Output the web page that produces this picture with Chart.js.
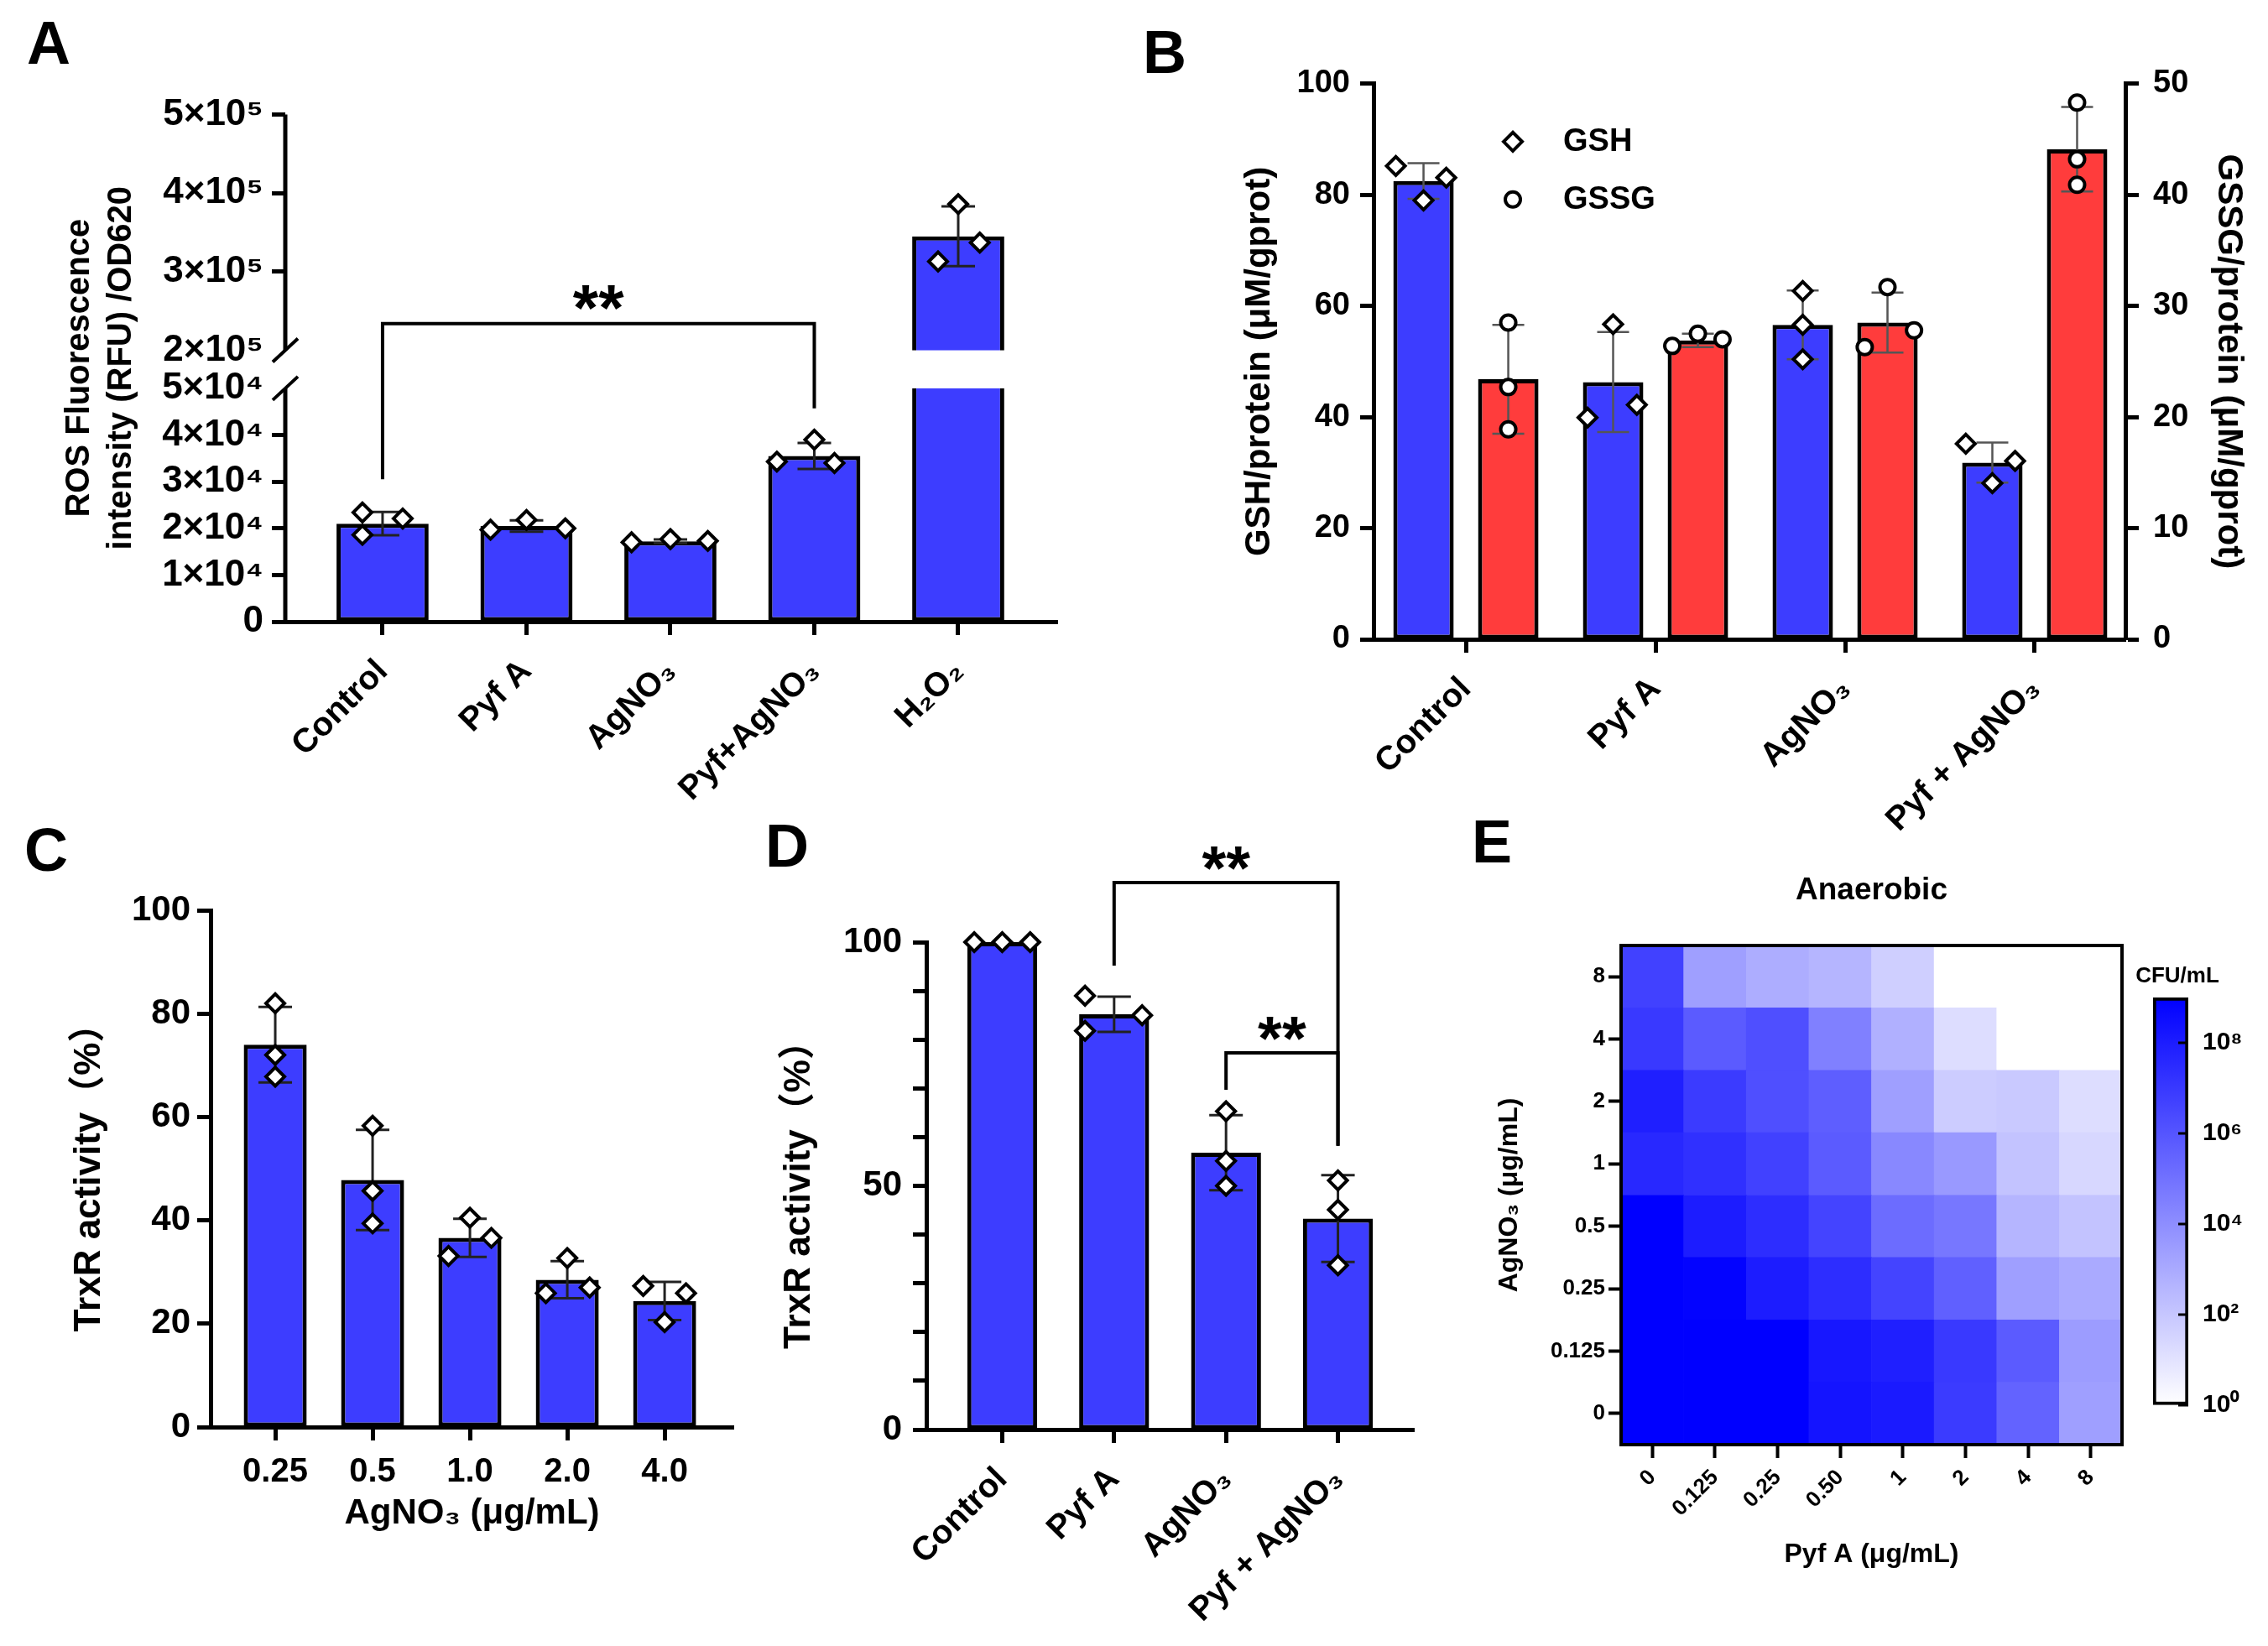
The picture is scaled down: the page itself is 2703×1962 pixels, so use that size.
<!DOCTYPE html>
<html>
<head>
<meta charset="utf-8">
<script src="https://cdn.jsdelivr.net/npm/chart.js@4.4.1/dist/chart.umd.min.js"></script>
<style>
  html, body { margin: 0; padding: 0; background: #fff; }
  body { position: relative; width: 2703px; height: 1962px; overflow: hidden; }
  canvas { position: absolute; }
  .tag { position: absolute; z-index: 5; font: bold 72px "Liberation Sans", Arial, sans-serif; line-height: 1; color: #000; }
</style>
</head>
<body>
<div class="tag" style="left:32px;top:15px">A</div>
<div class="tag" style="left:1362px;top:26px">B</div>
<div class="tag" style="left:29px;top:977px">C</div>
<div class="tag" style="left:912px;top:972px">D</div>
<div class="tag" style="left:1754px;top:967px">E</div>
<script>
// ---------- data ----------
// A: ROS fluorescence
const catsA = ['Control', 'Pyf A', 'AgNO₃', 'Pyf+AgNO₃', 'H₂O₂'];
const rosMean = [2.1e4, 2.05e4, 1.72e4, 3.55e4, 3.45e5];
const rosSd = [0.25e4, 0.12e4, 0.04e4, 0.28e4, 0.38e5];
const rosPts = [
  [2.34e4, 1.86e4, 2.21e4],
  [1.97e4, 2.18e4, 2.0e4],
  [1.7e4, 1.77e4, 1.73e4],
  [3.9e4, 3.43e4, 3.4e4],
  [3.86e5, 3.37e5, 3.13e5],
];
const rosTicks = [0, 1e4, 2e4, 3e4, 4e4, 5e4, 2e5, 3e5, 4e5, 5e5];
const rosBreak = [5e4, 2e5];

// B: GSH / GSSG
const catsB = ['Control', 'Pyf A', 'AgNO₃', 'Pyf + AgNO₃'];
const gshMean = [82.5, 46.3, 56.6, 31.8];
const gshSd = [3.2, 9.0, 6.2, 3.6];
const gshPts = [[85.2, 79.0, 83.1], [56.7, 39.9, 42.2], [62.7, 56.6, 50.4], [35.2, 28.1, 32.1]];
const gssgMean = [23.4, 26.9, 28.5, 44.1];
const gssgSd = [4.9, 0.6, 2.7, 3.8];
const gssgPts = [[28.5, 22.7, 18.9], [26.4, 27.5, 27.0], [31.7, 26.3, 27.8], [48.3, 43.2, 40.9]];

// C: TrxR activity vs AgNO3
const dosesC = ['0.25', '0.5', '1.0', '2.0', '4.0'];
const trxC = [74.0, 47.8, 36.6, 28.5, 24.4];
const trxCSd = [7.3, 9.7, 3.7, 3.6, 3.7];
const trxCPts = [[82.0, 72.0, 67.8], [58.3, 45.7, 39.4], [40.5, 33.1, 36.6], [32.7, 25.9, 27.0], [27.3, 25.9, 20.3]];

// D: TrxR activity by treatment
const catsD = ['Control', 'Pyf A', 'AgNO₃', 'Pyf + AgNO₃'];
const trxD = [100, 85.2, 56.8, 43.3];
const trxDSd = [0, 3.6, 7.7, 8.9];
const trxDPts = [[100, 100, 100], [89.0, 81.8, 85.0], [65.3, 55.1, 50.0], [51.1, 45.1, 33.7]];

// E: checkerboard, log10 CFU/mL; rows = AgNO3 dose (bottom to top), cols = Pyf A dose
const pyfDoses = ['0', '0.125', '0.25', '0.50', '1', '2', '4', '8'];
const agDoses = ['0', '0.125', '0.25', '0.5', '1', '2', '4', '8'];
const logCfu = [
  [9.0, 9.0, 9.0, 8.3, 8.1, 6.9, 5.5, 3.4],
  [9.0, 9.0, 9.0, 8.2, 7.9, 7.0, 5.8, 3.5],
  [9.0, 8.9, 8.0, 7.4, 6.6, 5.6, 3.4, 3.0],
  [9.0, 8.0, 7.4, 6.6, 5.2, 4.8, 2.6, 2.1],
  [7.6, 7.3, 6.7, 5.8, 4.2, 3.6, 2.1, 1.4],
  [7.9, 6.9, 6.2, 5.7, 3.4, 1.8, 1.9, 1.2],
  [7.0, 5.8, 6.2, 4.5, 2.8, 1.2, 0, 0],
  [6.7, 3.4, 2.9, 2.6, 1.7, 0, 0, 0],
];
const cfuTicks = [0, 2, 4, 6, 8];
const cfuRange = [0, 9];

// horizontal placement of replicate symbols (category units), like the prism scatter
const spreadA = [[-0.14, -0.14, 0.14], [-0.25, 0, 0.27], [-0.27, 0, 0.26], [0, -0.26, 0.14], [0, 0.15, -0.14]];
const spreadGsh = [[-0.146, 0, 0.12], [0, -0.135, 0.125], [0, 0, 0], [-0.14, 0, 0.12]];
const spreadGssg = [[0, 0, 0], [-0.135, 0, 0.13], [0, -0.12, 0.14], [0, 0, 0]];
const spreadC = [[0, 0, 0], [0, 0, 0], [0, -0.22, 0.22], [0, -0.22, 0.23], [-0.22, 0.22, 0]];
const spreadD = [[-0.25, 0, 0.25], [-0.26, -0.26, 0.25], [0, 0, 0], [0, 0, 0]];

// ---------- styling ----------
const FAM = '"Liberation Sans", Arial, "Noto Sans CJK SC", sans-serif';
const BLUE = '#3d3dff';
const RED = '#ff3c3c';
Chart.defaults.font.family = FAM;
Chart.defaults.font.weight = 'bold';
Chart.defaults.color = '#000';
Chart.defaults.animation = false;
Chart.defaults.responsive = false;
Chart.defaults.plugins.legend.display = false;
Chart.defaults.plugins.tooltip.enabled = false;

const SUP = { 0: '⁰', 1: '¹', 2: '²', 3: '³', 4: '⁴', 5: '⁵', 6: '⁶', 7: '⁷', 8: '⁸', 9: '⁹' };
const sup = (n) => String(n).split('').map((c) => SUP[c]).join('');
function sciLabel(v) {
  if (v === 0) return '0';
  const e = Math.floor(Math.log10(v) + 1e-9);
  return Math.round(v / 10 ** e) + '×10' + sup(e);
}
function cfuColor(v) {
  const t = (v - cfuRange[0]) / (cfuRange[1] - cfuRange[0]);
  const k = Math.round(255 * (1 - t));
  return `rgb(${k},${k},255)`;
}

function makeCanvas(x0, y0, x1, y1) {
  const c = document.createElement('canvas');
  c.width = x1 - x0;
  c.height = y1 - y0;
  c.style.left = x0 + 'px';
  c.style.top = y0 + 'px';
  document.body.appendChild(c);
  return c;
}

// linear x axis carrying category names, so the bars can sit away from the y axis
function catAxis(labels, min, max, o) {
  const ax = {
    type: 'linear', min, max, bounds: 'data', offset: false,
    afterBuildTicks: (s) => { s.ticks = labels.map((_, i) => ({ value: i })); },
    afterFit: (s) => { s.height = o.height; },
    ticks: { autoSkip: false, minRotation: o.rot, maxRotation: o.rot, padding: o.pad, font: { size: o.size }, callback: (v) => labels[v] },
    grid: { offset: false, drawOnChartArea: false, tickLength: 16, tickWidth: 5, color: '#000' },
    border: { color: '#000', width: 5 },
  };
  if (o.title) ax.title = { display: true, text: o.title, font: { size: o.titleSize }, padding: 0 };
  return ax;
}

function valueAxis(o) {
  const ticks = { stepSize: o.step, padding: o.pad, font: { size: o.size } };
  if (o.cb) ticks.callback = o.cb;
  return {
    type: 'linear', position: o.position || 'left', min: o.min, max: o.max, bounds: 'data',
    afterFit: (s) => { s.width = o.width; },
    ticks,
    grid: { drawOnChartArea: false, tickLength: 16, tickWidth: 5, color: '#000' },
    border: { color: '#000', width: 5 },
    title: { display: true, text: o.title, font: { size: o.titleSize }, padding: 0 },
  };
}

function pointsFrom(groups, spread, shift) {
  return groups.flatMap((g, i) => g.map((v, j) => ({ x: i + shift + spread[i][j], y: v })));
}

const marker = (style, r) => ({
  type: 'scatter', pointStyle: style, pointRadius: r, pointHoverRadius: r,
  pointBackgroundColor: '#fff', pointBorderColor: '#000', pointBorderWidth: 4,
  order: 1, clip: false,
});

// ---------- plugins ----------
const errorBars = {
  id: 'errorBars',
  defaults: { color: '#222', width: 3, cap: 20 },
  afterDatasetDraw(chart, args, opts) {
    const ds = chart.data.datasets[args.index];
    if (!ds.errors) return;
    const y = chart.scales[args.meta.yAxisID];
    const ctx = chart.ctx;
    ctx.save();
    ctx.strokeStyle = opts.color;
    ctx.lineWidth = opts.width;
    args.meta.data.forEach((bar, i) => {
      const e = ds.errors[i];
      if (!e) return;
      const m = ds.data[i].y;
      const top = y.getPixelForValue(m + e);
      const bot = y.getPixelForValue(m - e);
      ctx.beginPath();
      ctx.moveTo(bar.x, top); ctx.lineTo(bar.x, bot);
      ctx.moveTo(bar.x - opts.cap, top); ctx.lineTo(bar.x + opts.cap, top);
      ctx.moveTo(bar.x - opts.cap, bot); ctx.lineTo(bar.x + opts.cap, bot);
      ctx.stroke();
    });
    ctx.restore();
  },
};

const brackets = {
  id: 'brackets',
  defaults: { items: [], size: 78, lift: 8 },
  afterDatasetsDraw(chart, args, opts) {
    const { ctx } = chart;
    const x = chart.scales.x, y = chart.scales.y;
    ctx.save();
    ctx.strokeStyle = '#000';
    ctx.lineWidth = 4;
    ctx.fillStyle = '#000';
    ctx.font = `bold ${opts.size}px ${FAM}`;
    ctx.textAlign = 'center';
    ctx.textBaseline = 'alphabetic';
    opts.items.forEach((b) => {
      const x1 = x.getPixelForValue(b.from), x2 = x.getPixelForValue(b.to);
      const yl = y.getPixelForValue(b.level);
      ctx.beginPath();
      ctx.moveTo(x1, y.getPixelForValue(b.ends[0]));
      ctx.lineTo(x1, yl);
      ctx.lineTo(x2, yl);
      ctx.lineTo(x2, y.getPixelForValue(b.ends[1]));
      ctx.stroke();
      ctx.fillText(b.text, (x1 + x2) / 2, yl + opts.lift);
    });
    ctx.restore();
  },
};

// y scale with a gap between two linear segments
class BrokenScale extends Chart.LinearScale {
  static id = 'broken';
  static defaults = {};
  getPixelForValue(value) {
    if (value === null || value === undefined || isNaN(value)) return NaN;
    const [b0, b1] = this.options.breakAt;
    const [f0, f1] = this.options.breakSpan;
    const { min, max } = this;
    let f;
    if (value <= b0) f = (value - min) / (b0 - min) * f0;
    else if (value < b1) f = f0 + (value - b0) / (b1 - b0) * (f1 - f0);
    else f = f1 + (value - b1) / (max - b1) * (1 - f1);
    return this.getPixelForDecimal(f);
  }
  getValueForPixel(pixel) {
    const [b0, b1] = this.options.breakAt;
    const [f0, f1] = this.options.breakSpan;
    const { min, max } = this;
    const f = this.getDecimalForPixel(pixel);
    if (f <= f0) return min + f / f0 * (b0 - min);
    if (f < f1) return b0 + (f - f0) / (f1 - f0) * (b1 - b0);
    return b1 + (f - f1) / (1 - f1) * (max - b1);
  }
}
Chart.register(BrokenScale);

const brokenAxis = {
  id: 'brokenAxis',
  afterDatasetDraw(chart, args) {
    if (args.meta.type !== 'bar') return;
    const { ctx, chartArea: a } = chart;
    const y = chart.scales.y;
    const [b0, b1] = y.options.breakAt;
    const g0 = y.getPixelForValue(b0), g1 = y.getPixelForValue(b1);
    ctx.save();
    ctx.fillStyle = '#fff';
    ctx.fillRect(a.left + 3, g1, a.right - a.left, g0 - g1);
    ctx.restore();
  },
  afterDraw(chart) {
    const { ctx, chartArea: a } = chart;
    const y = chart.scales.y;
    const [b0, b1] = y.options.breakAt;
    const g0 = y.getPixelForValue(b0), g1 = y.getPixelForValue(b1);
    const x = a.left;
    ctx.save();
    ctx.strokeStyle = '#000';
    ctx.lineWidth = 5;
    ctx.beginPath();
    ctx.moveTo(x, a.top); ctx.lineTo(x, g1);
    ctx.moveTo(x, g0); ctx.lineTo(x, a.bottom + 2);
    ctx.stroke();
    ctx.lineWidth = 4;
    ctx.beginPath();
    [g1, g0].forEach((gy) => { ctx.moveTo(x - 15, gy + 14); ctx.lineTo(x + 15, gy - 14); });
    ctx.stroke();
    ctx.restore();
  },
};

const markerLegend = {
  id: 'markerLegend',
  defaults: { dx: 166, dy: 69, step: 69, gap: 60, size: 38 },
  afterDraw(chart, args, opts) {
    const { ctx, chartArea: a } = chart;
    const items = chart.data.datasets.filter((d) => d.type === 'scatter');
    ctx.save();
    items.forEach((d, k) => {
      const px = a.left + opts.dx, py = a.top + opts.dy + k * opts.step;
      ctx.fillStyle = '#fff';
      ctx.strokeStyle = '#000';
      ctx.lineWidth = 4;
      Chart.helpers.drawPoint(ctx, { pointStyle: d.pointStyle, radius: d.pointRadius, borderWidth: 4, rotation: 0 }, px, py);
      ctx.fillStyle = '#000';
      ctx.font = `bold ${opts.size}px ${FAM}`;
      ctx.textAlign = 'left';
      ctx.textBaseline = 'middle';
      ctx.fillText(d.label, px + opts.gap, py + 1);
    });
    ctx.restore();
  },
};

const frame = {
  id: 'frame',
  afterDraw(chart) {
    const { ctx, chartArea: a } = chart;
    ctx.save();
    ctx.strokeStyle = '#000';
    ctx.lineWidth = 4;
    ctx.strokeRect(a.left, a.top, a.right - a.left, a.bottom - a.top);
    ctx.restore();
  },
};

const colorbarMarks = {
  id: 'colorbarMarks',
  afterDraw(chart) {
    const { ctx, chartArea: a } = chart;
    const y = chart.scales.y;
    ctx.save();
    ctx.strokeStyle = '#000';
    ctx.lineWidth = 3;
    ctx.beginPath();
    y.ticks.forEach((t) => {
      const py = y.getPixelForValue(t.value);
      ctx.moveTo(a.right - 12, py); ctx.lineTo(a.right, py);
    });
    ctx.stroke();
    ctx.fillStyle = '#000';
    ctx.font = `bold 26px ${FAM}`;
    ctx.textAlign = 'center';
    ctx.textBaseline = 'middle';
    ctx.fillText(chart.data.labels[0], (a.left + a.right) / 2 + 8, a.top - 25);
    ctx.restore();
  },
};

// ---------- A ----------
new Chart(makeCanvas(70, 100, 1275, 990), {
  type: 'bar',
  data: {
    datasets: [
      { type: 'bar', data: rosMean.map((m, i) => ({ x: i, y: m })), errors: rosSd,
        backgroundColor: BLUE, borderColor: '#000', borderWidth: 5, borderSkipped: false,
        barPercentage: 0.64, categoryPercentage: 1, order: 2 },
      { ...marker('rectRot', 11), label: 'ROS', data: pointsFrom(rosPts, spreadA, 0) },
    ],
  },
  options: {
    devicePixelRatio: 1,
    layout: { padding: { top: 32, right: 15, left: 0, bottom: 0 } },
    scales: {
      x: catAxis(catsA, -0.676, 4.688, { rot: 45, size: 40, pad: 20, height: 249 }),
      y: {
        type: 'broken', min: 0, max: 5e5, bounds: 'data',
        breakAt: rosBreak, breakSpan: [0.46, 0.535],
        afterBuildTicks: (s) => { s.ticks = rosTicks.map((v) => ({ value: v })); },
        afterFit: (s) => { s.width = 270; },
        ticks: { callback: (v) => sciLabel(v), font: { size: 44 }, padding: 10 },
        grid: {
          drawOnChartArea: false, tickLength: 16, tickWidth: 5,
          color: (c) => (c.tick && rosBreak.includes(c.tick.value) ? 'rgba(0,0,0,0)' : '#000'),
        },
        border: { display: false },
        title: { display: true, text: ['ROS Fluorescence', 'intensity (RFU) /OD620'], font: { size: 40, lineHeight: 1.25 }, padding: 0 },
      },
    },
    plugins: {
      errorBars: { cap: 20 },
      brackets: { size: 78, lift: 8, items: [{ from: 0, to: 3, level: 2.34e5, ends: [3.05e4, 4.57e4], text: '**' }] },
    },
  },
  plugins: [errorBars, brokenAxis, brackets],
});

// ---------- B ----------
const catPctB = 0.894;
new Chart(makeCanvas(1476, 60, 2681, 1000), {
  type: 'bar',
  data: {
    datasets: [
      { type: 'bar', data: gshMean.map((m, i) => ({ x: i, y: m })), errors: gshSd, yAxisID: 'y',
        backgroundColor: BLUE, borderColor: '#000', borderWidth: 5, borderSkipped: false,
        barPercentage: 0.713, categoryPercentage: catPctB, order: 2 },
      { type: 'bar', data: gssgMean.map((m, i) => ({ x: i, y: m })), errors: gssgSd, yAxisID: 'y2',
        backgroundColor: RED, borderColor: '#000', borderWidth: 5, borderSkipped: false,
        barPercentage: 0.713, categoryPercentage: catPctB, order: 2 },
      { ...marker('rectRot', 11), label: 'GSH', yAxisID: 'y', data: pointsFrom(gshPts, spreadGsh, -catPctB / 4) },
      { ...marker('circle', 9), label: 'GSSG', yAxisID: 'y2', data: pointsFrom(gssgPts, spreadGssg, catPctB / 4) },
    ],
  },
  options: {
    devicePixelRatio: 1,
    layout: { padding: { top: 37, right: 0, left: 0, bottom: 0 } },
    scales: {
      x: catAxis(catsB, -0.487, 3.478, { rot: 45, size: 40, pad: 20, height: 238 }),
      y: valueAxis({ min: 0, max: 100, step: 20, pad: 12, size: 38, width: 161, title: 'GSH/protein (μM/gprot)', titleSize: 42 }),
      y2: valueAxis({ position: 'right', min: 0, max: 50, step: 10, pad: 17, size: 38, width: 148, title: 'GSSG/protein (μM/gprot)', titleSize: 42 }),
    },
    plugins: {
      errorBars: { color: '#555', width: 2.5, cap: 19 },
      markerLegend: { dx: 166, dy: 69, step: 69, gap: 60, size: 38 },
    },
  },
  plugins: [errorBars, markerLegend],
});

// ---------- C ----------
new Chart(makeCanvas(80, 1050, 890, 1830), {
  type: 'bar',
  data: {
    datasets: [
      { type: 'bar', data: trxC.map((m, i) => ({ x: i, y: m })), errors: trxCSd,
        backgroundColor: BLUE, borderColor: '#000', borderWidth: 5, borderSkipped: false,
        barPercentage: 0.647, categoryPercentage: 1, order: 2 },
      { ...marker('rectRot', 11), label: 'TrxR', data: pointsFrom(trxCPts, spreadC, 0) },
    ],
  },
  options: {
    devicePixelRatio: 1,
    layout: { padding: { top: 35, right: 16, left: 0, bottom: 0 } },
    scales: {
      x: catAxis(dosesC, -0.664, 4.706, { rot: 0, size: 40, pad: 14, height: 129, title: 'AgNO₃ (μg/mL)', titleSize: 42 }),
      y: valueAxis({ min: 0, max: 100, step: 20, pad: 8, size: 42, width: 171, title: 'TrxR activity（%）', titleSize: 44 }),
    },
    plugins: { errorBars: { cap: 20 } },
  },
  plugins: [errorBars],
});

// ---------- D ----------
new Chart(makeCanvas(926, 970, 1700, 1962), {
  type: 'bar',
  data: {
    datasets: [
      { type: 'bar', data: trxD.map((m, i) => ({ x: i, y: m })), errors: trxDSd,
        backgroundColor: BLUE, borderColor: '#000', borderWidth: 5, borderSkipped: false,
        barPercentage: 0.625, categoryPercentage: 1, order: 2 },
      { ...marker('rectRot', 11), label: 'TrxR', data: pointsFrom(trxDPts, spreadD, 0) },
    ],
  },
  options: {
    devicePixelRatio: 1,
    layout: { padding: { top: 153, right: 11, left: 0, bottom: 0 } },
    scales: {
      x: catAxis(catsD, -0.678, 3.678, { rot: 45, size: 40, pad: 20, height: 258 }),
      y: valueAxis({ min: 0, max: 100, step: 10, pad: 13, size: 42, width: 178, title: 'TrxR activity（%）', titleSize: 44,
        cb: (v) => (v % 50 === 0 ? String(v) : '') }),
    },
    plugins: {
      errorBars: { cap: 20 },
      brackets: { size: 74, lift: 8, items: [
        { from: 1, to: 3, level: 112.2, ends: [95.2, 58.2], text: '**' },
        { from: 2, to: 3, level: 77.3, ends: [69.7, 58.2], text: '**' },
      ] },
    },
  },
  plugins: [errorBars, brackets],
});

// ---------- E: heatmap ----------
new Chart(makeCanvas(1780, 1040, 2540, 1872), {
  type: 'bar',
  data: {
    labels: pyfDoses,
    datasets: agDoses.map((ag, r) => ({
      label: ag,
      data: logCfu[r].map((v, c) => ({ x: pyfDoses[c], y: [r, r + 1], v })),
      backgroundColor: (ctx) => (ctx.raw ? cfuColor(ctx.raw.v) : '#fff'),
      borderWidth: 0, grouped: false, barPercentage: 1, categoryPercentage: 1,
    })),
  },
  options: {
    devicePixelRatio: 1,
    layout: { padding: { top: 0, right: 11, left: 0, bottom: 0 } },
    scales: {
      x: {
        type: 'category', offset: true,
        afterFit: (s) => { s.height = 150; },
        ticks: { autoSkip: false, minRotation: 45, maxRotation: 45, padding: 8, font: { size: 26 } },
        grid: { offset: false, drawOnChartArea: false, tickLength: 16, tickWidth: 4, color: '#000' },
        border: { color: '#000', width: 4 },
        title: { display: true, text: 'Pyf A (μg/mL)', font: { size: 32 }, padding: 0 },
      },
      y: {
        type: 'linear', min: 0, max: agDoses.length, bounds: 'data',
        afterBuildTicks: (s) => { s.ticks = agDoses.map((_, r) => ({ value: r + 0.5 })); },
        afterFit: (s) => { s.width = 152; },
        ticks: { font: { size: 26 }, padding: 4, callback: (v) => agDoses[Math.floor(v)] },
        grid: { drawOnChartArea: false, tickLength: 15, tickWidth: 4, color: '#000' },
        border: { color: '#000', width: 4 },
        title: { display: true, text: 'AgNO₃ (μg/mL)', font: { size: 32 }, padding: 0 },
      },
    },
    plugins: {
      title: { display: true, text: 'Anaerobic', fullSize: false, font: { size: 37, weight: 'bold' }, color: '#000', padding: { top: 0, bottom: 42.6 } },
    },
  },
  plugins: [frame],
});

// ---------- E: colour bar ----------
new Chart(makeCanvas(2540, 1140, 2700, 1710), {
  type: 'bar',
  data: {
    labels: ['CFU/mL'],
    datasets: [{
      data: [cfuRange],
      backgroundColor: (c) => {
        const y = c.chart.scales.y;
        if (!c.chart.chartArea || !y) return '#fff';
        const g = c.chart.ctx.createLinearGradient(0, y.getPixelForValue(cfuRange[0]), 0, y.getPixelForValue(cfuRange[1]));
        g.addColorStop(0, cfuColor(cfuRange[0]));
        g.addColorStop(1, cfuColor(cfuRange[1]));
        return g;
      },
      borderColor: '#000', borderWidth: 4, borderSkipped: false,
      barPercentage: 1, categoryPercentage: 1,
    }],
  },
  options: {
    devicePixelRatio: 1,
    layout: { padding: { top: 49, right: 0, left: 26, bottom: 20 } },
    scales: {
      x: { display: false },
      y: {
        type: 'linear', position: 'right', min: cfuRange[0], max: cfuRange[1], bounds: 'data',
        afterBuildTicks: (s) => { s.ticks = cfuTicks.map((v) => ({ value: v })); },
        afterFit: (s) => { s.width = 92; },
        ticks: { font: { size: 30 }, padding: 17, callback: (v) => '10' + sup(v) },
        grid: { drawOnChartArea: false, drawTicks: false },
        border: { display: false },
      },
    },
  },
  plugins: [colorbarMarks],
});
</script>
</body>
</html>
